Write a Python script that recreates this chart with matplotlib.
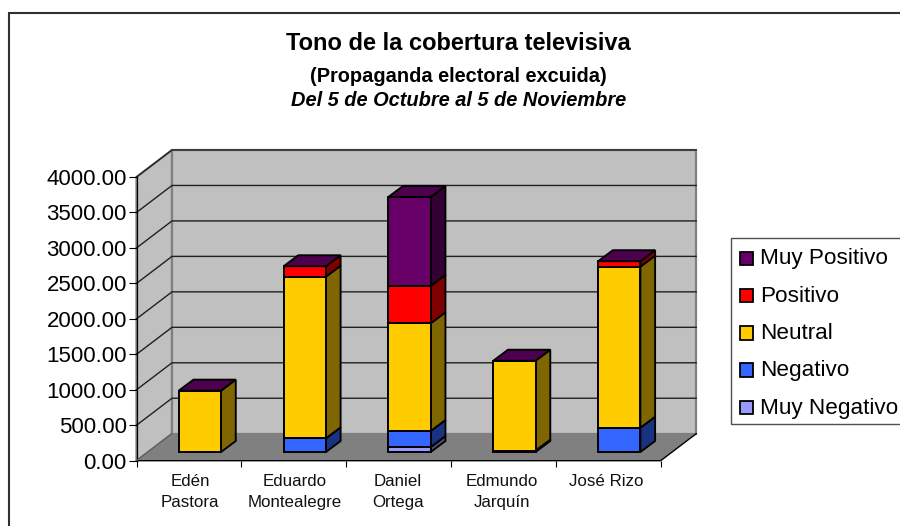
import matplotlib
matplotlib.use("Agg")
import matplotlib.pyplot as plt
from matplotlib.patches import Polygon, Rectangle
import matplotlib.transforms as mtrans

plt.rcParams['font.family'] = ['Liberation Sans', 'DejaVu Sans']

categories = ["Edén\nPastora", "Eduardo\nMontealegre", "Daniel\nOrtega", "Edmundo\nJarquín", "José Rizo"]
muy_negativo = [0, 0, 70, 0, 0]
negativo = [0, 193, 226, 20, 343]
neutral = [865, 2279, 1519, 1267, 2270]
positivo = [0, 147, 526, 0, 77]
muy_positivo = [0, 0, 1256, 0, 0]
y_ticks = [0, 500, 1000, 1500, 2000, 2500, 3000, 3500, 4000]
series_names = ["Muy Negativo", "Negativo", "Neutral", "Positivo", "Muy Positivo"]
series_values = [muy_negativo, negativo, neutral, positivo, muy_positivo]
front_colors = ["#9999FF", "#3366FF", "#FFCC00", "#FF0000", "#660066"]
side_colors = ["#4D4D80", "#1A3380", "#806600", "#800000", "#330033"]
top_color = "#4D004D"

W, H = 900, 526
fig = plt.figure(figsize=(W / 100, H / 100), dpi=100)
fig.patch.set_facecolor("white")

# Outer chart border
fig.add_artist(Rectangle((9 / W, -5 / H), 1.1, (H - 12.5 + 5) / H, transform=fig.transFigure,
                         fill=False, ec="#303030", lw=1.5))

L, R, B, T = 136.5, 660.7, 460.7, 177.0
ax = fig.add_axes([L / W, 1 - B / H, (R - L) / W, (B - T) / H])
ax.set_xlim(0, 5)
ax.set_ylim(0, 4000)
ax.patch.set_visible(False)
for s in ax.spines.values():
    s.set_visible(False)

ux = (R - L) / 5      # px per category
uy = (B - T) / 4000   # px per value unit
wall_dx, wall_dy = 35.5 / ux, 27.0 / uy
bar_ox, bar_oy = 11.0 / ux, 8.7 / uy
bar_w = 42.3 / ux
bar_dx, bar_dy = 14.7 / ux, 11.0 / uy


def poly(pts, **kw):
    kw.setdefault("clip_on", False)
    p = Polygon(pts, closed=True, **kw)
    ax.add_patch(p)
    return p


# Walls and floor
poly([(0, 0), (wall_dx, wall_dy), (wall_dx, 4000 + wall_dy), (0, 4000)], fc="#C0C0C0", ec="#808080", lw=1.6, zorder=1)
poly([(wall_dx, wall_dy), (5 + wall_dx, wall_dy), (5 + wall_dx, 4000 + wall_dy), (wall_dx, 4000 + wall_dy)],
     fc="#C0C0C0", ec="#808080", lw=1.6, zorder=1)
poly([(0, 0), (5, 0), (5 + wall_dx, wall_dy), (wall_dx, wall_dy)], fc="#808080", ec="none", zorder=1.2)

for v in y_ticks[1:]:
    ax.plot([0, wall_dx, 5 + wall_dx], [v, v + wall_dy, v + wall_dy], color="#202020", lw=1.0,
            clip_on=False, zorder=1.1, solid_joinstyle="miter")
ax.plot([0, 0], [0, 4000], color="black", lw=0.9, clip_on=False, zorder=1.3)
ax.plot([0, 5, 5 + wall_dx], [0, 0, wall_dy], color="black", lw=1.0, clip_on=False, zorder=1.3)
ax.plot([0, wall_dx], [0, wall_dy], color="#606060", lw=0.9, clip_on=False, zorder=1.3)

# Bars
for i in range(len(categories)):
    x0 = i + 0.5 + bar_ox - bar_w / 2
    x1 = x0 + bar_w
    bottom = bar_oy
    z = 3 + i
    for vals, fc, sc in zip(series_values, front_colors, side_colors):
        v = vals[i]
        if v > 0:
            poly([(x1, bottom), (x1 + bar_dx, bottom + bar_dy), (x1 + bar_dx, bottom + v + bar_dy), (x1, bottom + v)],
                 fc=sc, ec="black", lw=1.35, zorder=z, joinstyle="miter")
            ax.bar(x0, v, width=bar_w, bottom=bottom, align="edge", color=fc, edgecolor="black",
                   linewidth=1.4, clip_on=False, zorder=z + 0.05)
        bottom += v
    poly([(x0, bottom), (x1, bottom), (x1 + bar_dx, bottom + bar_dy), (x0 + bar_dx, bottom + bar_dy)],
         fc=top_color, ec="black", lw=1.35, zorder=z + 0.1, joinstyle="miter")

# Axes ticks
ax.set_yticks(y_ticks)
ax.set_yticklabels([f"{v:.2f}" for v in y_ticks], fontsize=16, color="black")
shift = mtrans.ScaledTranslation(0, 1.2 / 100, fig.dpi_scale_trans)
for lab in ax.get_yticklabels():
    lab.set_transform(lab.get_transform() + shift)
ax.tick_params(axis="y", length=5.5, width=0.8, pad=1.5, color="black")
ax.set_xticks(range(6))
ax.set_xticklabels([])
ax.tick_params(axis="x", length=4.5, width=0.8, color="black")
label_x = [190, 295, 398, 502, 606]
for c, xp in zip(categories, label_x):
    for j, ln in enumerate(c.split("\n")):
        fig.text(xp / W, 1 - (481.3 + j * 20.8) / H, ln, fontsize=12.2,
                 ha="center", va="center", color="#111111")

# Titles
cx = 458.8
fig.text(cx / W, 1 - 43.5 / H, "Tono de la cobertura televisiva", fontsize=17, fontweight="bold", ha="center", va="center")
fig.text(cx / W, 1 - 76 / H, "(Propaganda electoral excuida)", fontsize=14.4, fontweight="bold", ha="center", va="center")
fig.text(cx / W, 1 - 101 / H, "Del 5 de Octubre al 5 de Noviembre", fontsize=14.4, fontweight="bold", style="italic",
         ha="center", va="center")

# Legend
fig.add_artist(Rectangle((731 / W, 1 - 423.5 / H), 1, 185.8 / H, transform=fig.transFigure, fill=False,
                         ec="#505050", lw=1.0))
rows = list(zip(series_names, front_colors))[::-1]
for k, (name, col) in enumerate(rows):
    yc = 257.7 + k * 37.3
    fig.add_artist(Rectangle((739.5 / W, 1 - (yc + 7.3) / H), 13.5 / W, 13.5 / H, transform=fig.transFigure,
                             fc=col, ec="black", lw=1.3))
    fig.text(760 / W, 1 - (yc + 1.3) / H, name, fontsize=16.2, ha="left", va="center", color="black")

fig.savefig("out.png", dpi=100)
